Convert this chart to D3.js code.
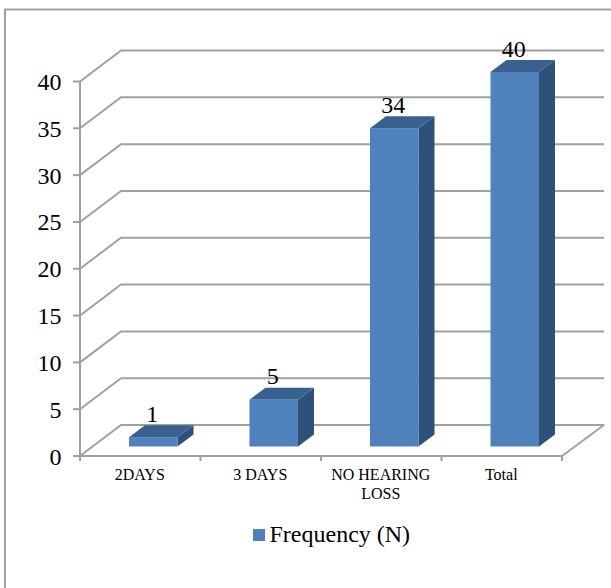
<!DOCTYPE html>
<html><head><meta charset="utf-8">
<script src="https://cdn.jsdelivr.net/npm/d3@7"></script>
<style>html,body{margin:0;padding:0;background:#fff}svg{display:block}text{font-family:"Liberation Serif",serif;fill:#000}</style>
</head><body><div id="c"></div>
<script>
const categories = ["2DAYS","3 DAYS","NO HEARING|LOSS","Total"];
const values = [1,5,34,40];
const yTicks = [0,5,10,15,20,25,30,35,40];
const seriesName = "Frequency (N)";

const W=611,H=588;
const svg=d3.select("#c").append("svg").attr("width",W).attr("height",H);
const x=d3.scaleBand().domain(categories).range([80,562]);
const y=d3.scaleLinear().domain([0,40]).range([456,81.5]);
const wallDx=41,wallDy=-31,barOff={x:13,y:-9.5},barDepth={x:16,y:-12},barW=48.5;
const grid="#a0a0a0";

svg.append("path").attr("d","M5,588V9.5H611").attr("fill","none").attr("stroke",grid).attr("stroke-width",2);

const gl=d3.line();
yTicks.forEach(t=>{
  svg.append("path").attr("d",gl([[x.range()[0],y(t)],[x.range()[0]+wallDx,y(t)+wallDy],[x.range()[1]+wallDx+1,y(t)+wallDy]]))
   .attr("fill","none").attr("stroke",grid).attr("stroke-width",2);
});
svg.append("path").attr("d",gl([[x.range()[1],y(0)],[x.range()[1]+wallDx+1,y(0)+wallDy]])).attr("fill","none").attr("stroke",grid).attr("stroke-width",2);

const ax=svg.append("g").attr("stroke",grid).attr("stroke-width",2);
ax.append("line").attr("x1",80).attr("x2",80).attr("y1",y(40)).attr("y2",y(0)+4);
ax.append("line").attr("x1",73).attr("x2",x.range()[1]).attr("y1",y(0)).attr("y2",y(0));
yTicks.forEach(t=>ax.append("line").attr("x1",73).attr("x2",80).attr("y1",y(t)).attr("y2",y(t)));
const edges=categories.map(c=>x(c)).concat(x.range()[1]);
edges.forEach(e=>ax.append("line").attr("x1",e).attr("x2",e).attr("y1",y(0)).attr("y2",y(0)+5));

svg.append("g").selectAll("text").data(yTicks).join("text")
  .attr("x",61.5).attr("y",d=>y(d)+8.5).attr("text-anchor","end").attr("font-size",24).text(d=>d);

const bars=svg.append("g").selectAll("g").data(values).join("g");
const bx=(d,i)=>x(categories[i])+(x.bandwidth()-barW)/2+barOff.x;
const base=y(0)+barOff.y;
const barTop=d=>base-(y(0)-y(d));
bars.append("path").attr("fill","#2f5079").attr("d",(d,i)=>{const l=bx(d,i)+barW;return gl([[l,barTop(d)],[l+barDepth.x,barTop(d)+barDepth.y],[l+barDepth.x,base+barDepth.y],[l,base]])+"Z";});
bars.append("path").attr("fill","#39608f").attr("d",(d,i)=>{const l=bx(d,i),t=barTop(d);return gl([[l,t],[l+barDepth.x,t+barDepth.y],[l+barW+barDepth.x,t+barDepth.y],[l+barW,t]])+"Z";});
bars.append("rect").attr("fill","#4f81bd").attr("x",bx).attr("y",barTop).attr("width",barW).attr("height",d=>base-barTop(d));
bars.append("text").attr("x",(d,i)=>bx(d,i)+barW/2-1).attr("y",d=>barTop(d)-15.5).attr("text-anchor","middle").attr("font-size",24).text(d=>d);

categories.forEach(c=>{
  const lines=c.split("|");
  const t=svg.append("text").attr("text-anchor","middle").attr("font-size",16);
  const cx=x(c)+x.bandwidth()/2-0.5;
  lines.forEach((s,i)=>t.append("tspan").attr("x",cx).attr("y",480+i*19).text(s));
});

svg.append("rect").attr("x",253).attr("y",529).attr("width",12).attr("height",12).attr("fill","#4f81bd");
svg.append("text").attr("x",269.5).attr("y",542).attr("font-size",24).text(seriesName);
</script></body></html>
